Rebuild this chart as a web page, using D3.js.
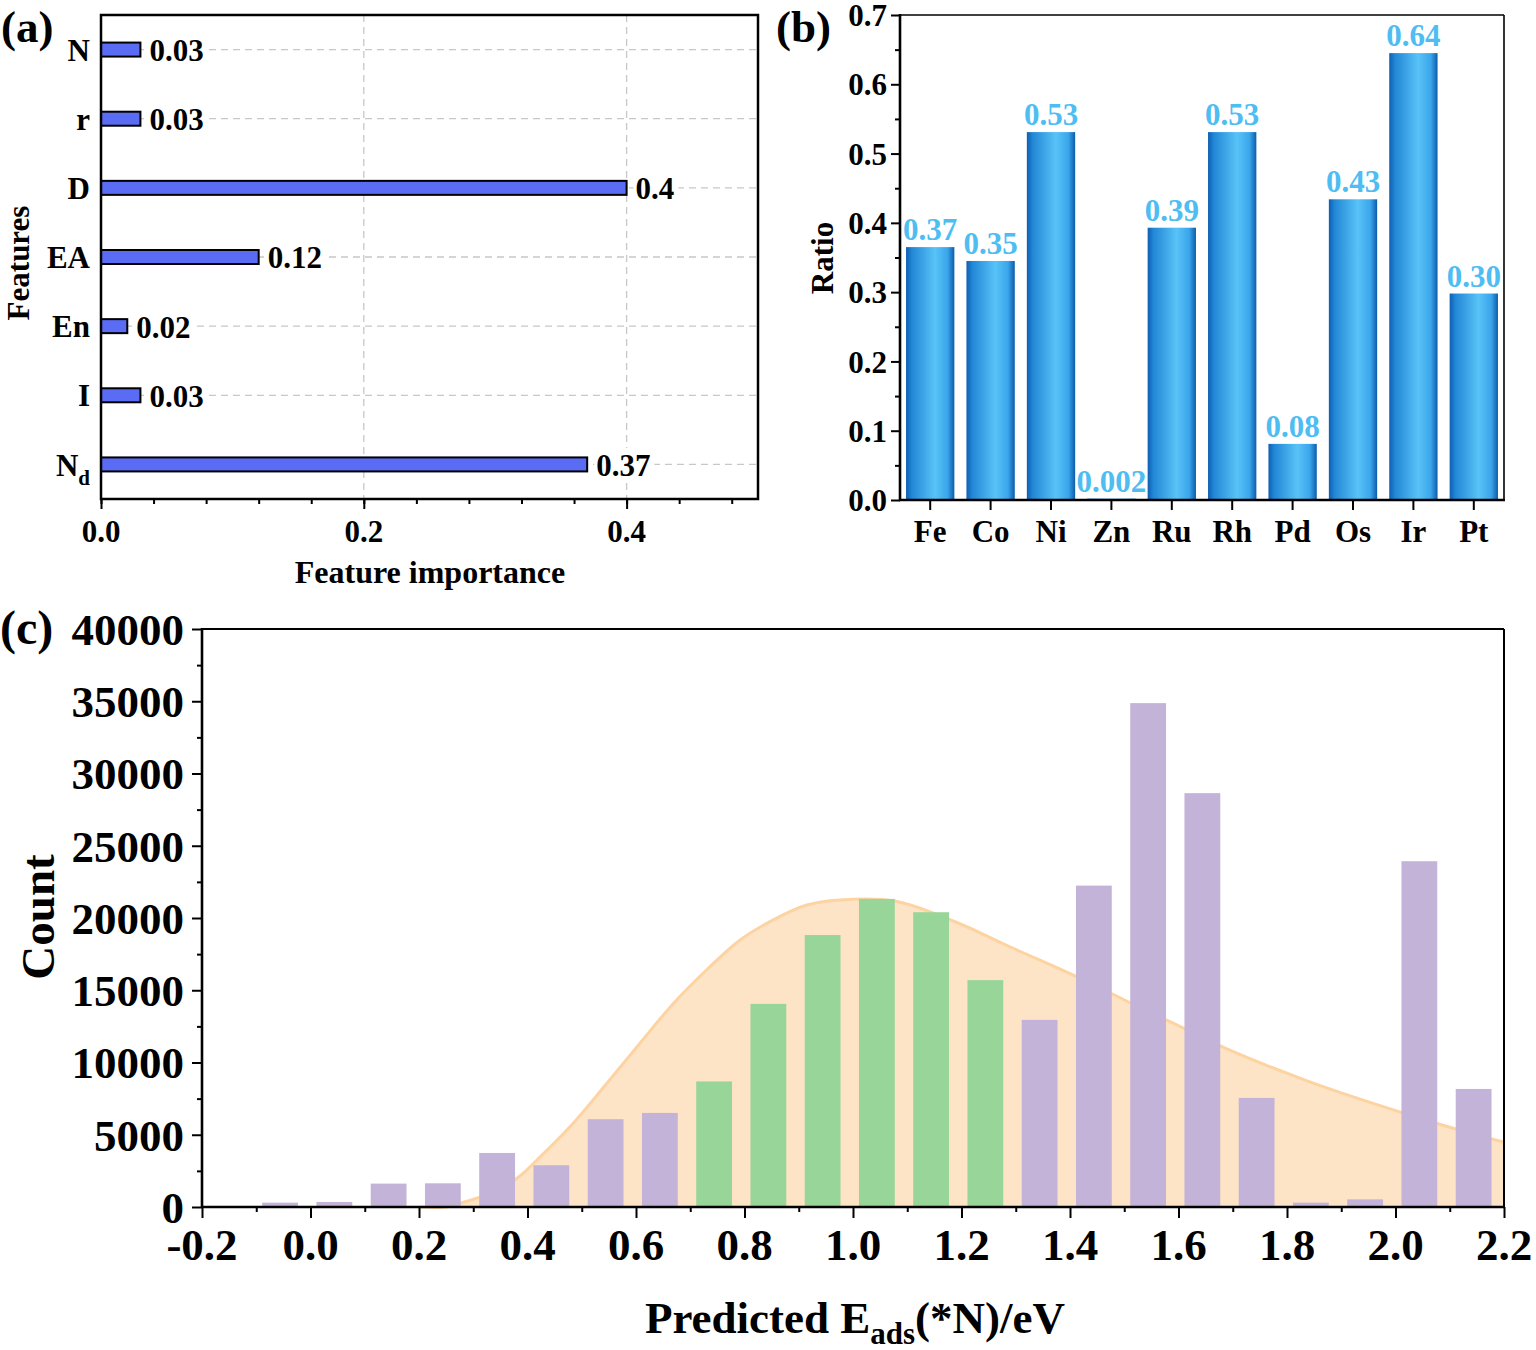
<!DOCTYPE html>
<html><head><meta charset="utf-8">
<script src="https://cdn.jsdelivr.net/npm/d3@7"></script>
<style>
body{margin:0;background:#fff}
text{font-family:"Liberation Serif","Times New Roman",serif;font-weight:bold;fill:#000}
</style>
</head><body>
<svg id="c" width="1536" height="1350"></svg>
<script>
// ---------- DATA ----------
// Panel (a)
const features = ["N","r","D","EA","En","I","Nd"];
const importance = [0.03,0.03,0.4,0.12,0.02,0.03,0.37];
const importanceLabels = ["0.03","0.03","0.4","0.12","0.02","0.03","0.37"];
const xTicksA = [0.0,0.2,0.4];

// Panel (b)
const metals = ["Fe","Co","Ni","Zn","Ru","Rh","Pd","Os","Ir","Pt"];
const ratios = [0.365,0.345,0.531,0.002,0.393,0.531,0.081,0.434,0.645,0.298];
const ratioLabels = ["0.37","0.35","0.53","0.002","0.39","0.53","0.08","0.43","0.64","0.30"];
const yTicksB = [0.0,0.1,0.2,0.3,0.4,0.5,0.6,0.7];

// Panel (c)
const binCenters = [-0.056,0.044,0.144,0.244,0.344,0.444,0.544,0.644,0.744,0.844,0.944,1.044,1.144,1.244,1.344,1.444,1.544,1.644,1.744,1.844,1.944,2.044,2.144];
const binCounts  = [300,350,1620,1640,3740,2890,6075,6510,8690,14060,18820,21320,20400,15700,12950,22240,34870,28640,7550,300,530,23930,8170];
const binGroups  = ["out","out","out","out","out","out","out","out","in","in","in","in","in","in","out","out","out","out","out","out","out","out","out"];
const curveX = [0.2,0.25,0.276,0.33,0.38,0.423,0.484,0.546,0.607,0.669,0.730,0.792,0.853,0.915,0.976,1.077,1.188,1.289,1.418,1.52,1.594,1.686,1.842,2.027,2.119,2.2];
const curveY = [0,0,256,950,1970,3460,5780,8550,11320,14090,16400,18480,19870,20900,21250,21180,19740,18010,15840,13970,12650,11000,8660,6350,5310,4480];
const xTicksC = [-0.2,0.0,0.2,0.4,0.6,0.8,1.0,1.2,1.4,1.6,1.8,2.0,2.2];
const yTicksC = [0,5000,10000,15000,20000,25000,30000,35000,40000];

// ---------- DRAW ----------
const svg = d3.select("#c");
svg.append("rect").attr("width",1536).attr("height",1350).attr("fill","#fff");
const defs = svg.append("defs");
const grad = defs.append("linearGradient").attr("id","gradB").attr("x1","0").attr("x2","1").attr("y1","0").attr("y2","0");
[[0,"#0e5fb2"],[0.12,"#2287d6"],[0.6,"#58c3f7"],[0.86,"#3aa5ea"],[1,"#0c5cab"]].forEach(s=>{
  grad.append("stop").attr("offset",s[0]).attr("stop-color",s[1]);
});

function stripDomain(g){ g.select(".domain").remove(); g.selectAll(".tick line").attr("stroke","#000").attr("stroke-width",2); }

// ===== Panel (a) =====
const gA = svg.append("g");
const xA = d3.scaleLinear().domain([0,0.5]).range([101,758]);
const yA = d3.scaleBand().domain(features).range([15,499]);
const cy = d => yA(d) + yA.bandwidth()/2;

gA.selectAll("line.vg").data([0.2,0.4]).join("line").attr("class","vg")
  .attr("x1",d=>xA(d)).attr("x2",d=>xA(d)).attr("y1",15).attr("y2",499)
  .attr("stroke","#c8c8c8").attr("stroke-width",1.3).attr("stroke-dasharray","7,5");
gA.selectAll("line.hg").data(features).join("line").attr("class","hg")
  .attr("x1",xA(0)).attr("x2",xA(0.5)).attr("y1",d=>cy(d)).attr("y2",d=>cy(d))
  .attr("stroke","#c8c8c8").attr("stroke-width",1.3).attr("stroke-dasharray","7,5");

gA.selectAll("rect.bar").data(features).join("rect").attr("class","bar")
  .attr("x",xA(0)).attr("y",d=>cy(d)-7).attr("height",14)
  .attr("width",(d,i)=>xA(importance[i])-xA(0))
  .attr("fill","#5b6cf4").attr("stroke","#000").attr("stroke-width",2);

features.forEach((f,i)=>{
  const g = gA.append("g");
  const r = g.append("rect").attr("fill","#fff");
  const t = g.append("text").attr("x",xA(importance[i])+9).attr("y",cy(f)).attr("dy","0.37em")
    .attr("font-size",31).text(importanceLabels[i]);
  const b = t.node().getBBox();
  r.attr("x",b.x-2).attr("y",b.y).attr("width",b.width+6).attr("height",b.height);
});

features.forEach(f=>{
  const t = gA.append("text").attr("x",90).attr("y",cy(f)).attr("dy","0.36em")
    .attr("text-anchor","end").attr("font-size",31);
  if(f==="Nd"){
    t.append("tspan").text("N");
    t.append("tspan").attr("font-size",21).attr("dy",9).text("d");
  } else t.text(f);
});

gA.append("g").attr("transform","translate(0,499)")
  .call(d3.axisBottom(xA).tickValues(d3.range(0,0.49,0.04)).tickSize(5).tickFormat(""))
  .call(stripDomain);
gA.append("g").attr("transform","translate(0,499)")
  .call(d3.axisBottom(xA).tickValues(xTicksA).tickSize(10).tickFormat(""))
  .call(stripDomain);
gA.selectAll("text.xt").data(xTicksA).join("text").attr("class","xt")
  .attr("x",d=>xA(d)).attr("y",542).attr("text-anchor","middle").attr("font-size",31)
  .text(d=>d.toFixed(1));
gA.append("rect").attr("x",xA(0)).attr("y",15).attr("width",xA(0.5)-xA(0)).attr("height",484)
  .attr("fill","none").attr("stroke","#000").attr("stroke-width",2.5);
gA.append("text").attr("x",430).attr("y",583).attr("text-anchor","middle").attr("font-size",32).text("Feature importance");
gA.append("text").attr("transform","translate(29,263) rotate(-90)").attr("text-anchor","middle").attr("font-size",31).text("Features");
svg.append("text").attr("x",1).attr("y",42).attr("font-size",45).text("(a)");

// ===== Panel (b) =====
const gB = svg.append("g");
const xB = d3.scaleBand().domain(metals).range([900,1504]).paddingInner(0.2).paddingOuter(0.1);
const yB = d3.scaleLinear().domain([0,0.7]).range([500,15]);

gB.selectAll("rect.bar").data(metals).join("rect").attr("class","bar")
  .attr("x",d=>xB(d)).attr("width",xB.bandwidth())
  .attr("y",(d,i)=>yB(ratios[i])).attr("height",(d,i)=>yB(0)-yB(ratios[i]))
  .attr("fill","url(#gradB)");
gB.selectAll("text.vl").data(metals).join("text").attr("class","vl")
  .attr("x",d=>xB(d)+xB.bandwidth()/2).attr("y",(d,i)=>yB(ratios[i])-7)
  .attr("text-anchor","middle").attr("font-size",31).style("fill","#4dbdf2")
  .text((d,i)=>ratioLabels[i]);

gB.append("g").attr("transform","translate(900,0)")
  .call(d3.axisLeft(yB).tickValues(d3.range(0.05,0.7,0.1)).tickSize(5).tickFormat(""))
  .call(stripDomain);
gB.append("g").attr("transform","translate(900,0)")
  .call(d3.axisLeft(yB).tickValues(yTicksB).tickSize(9).tickFormat(""))
  .call(stripDomain);
gB.append("g").attr("transform","translate(0,500)")
  .call(d3.axisBottom(xB).tickSize(10).tickFormat(""))
  .call(stripDomain);
gB.selectAll("text.yt").data(yTicksB).join("text").attr("class","yt")
  .attr("x",887).attr("y",d=>yB(d)).attr("dy","0.36em").attr("text-anchor","end").attr("font-size",31)
  .text(d=>d.toFixed(1));
gB.selectAll("text.xt").data(metals).join("text").attr("class","xt")
  .attr("x",d=>xB(d)+xB.bandwidth()/2).attr("y",542).attr("text-anchor","middle").attr("font-size",31)
  .text(d=>d);
gB.append("line").attr("x1",900).attr("x2",1504).attr("y1",15).attr("y2",15).attr("stroke","#000").attr("stroke-width",1.6);
gB.append("line").attr("x1",1504).attr("x2",1504).attr("y1",15).attr("y2",500).attr("stroke","#000").attr("stroke-width",1.6);
gB.append("line").attr("x1",900).attr("x2",900).attr("y1",14).attr("y2",501).attr("stroke","#000").attr("stroke-width",2.6);
gB.append("line").attr("x1",899).attr("x2",1505).attr("y1",500).attr("y2",500).attr("stroke","#000").attr("stroke-width",2.6);
gB.append("text").attr("transform","translate(833,258) rotate(-90)").attr("text-anchor","middle").attr("font-size",31).text("Ratio");
svg.append("text").attr("x",776).attr("y",42).attr("font-size",45).text("(b)");

// ===== Panel (c) =====
const gC = svg.append("g");
const xC = d3.scaleLinear().domain([-0.2,2.2]).range([202,1504]);
const yC = d3.scaleLinear().domain([0,40000]).range([1207,629]);
const curvePts = curveX.map((x,i)=>[x,curveY[i]]);
const smooth = d3.curveCatmullRom.alpha(0.5);
gC.append("path").datum(curvePts)
  .attr("d",d3.area().x(d=>xC(d[0])).y0(yC(0)).y1(d=>Math.min(yC(0),yC(d[1]))).curve(smooth))
  .attr("fill","#fee4c6");
gC.append("path").datum(curvePts)
  .attr("d",d3.line().x(d=>xC(d[0])).y(d=>yC(d[1])).curve(smooth))
  .attr("fill","none").attr("stroke","#fdd3a2").attr("stroke-width",3);

const bw = 0.066;
gC.selectAll("rect.bar").data(binCenters).join("rect").attr("class","bar")
  .attr("x",d=>xC(d-bw/2)).attr("width",xC(bw)-xC(0))
  .attr("y",(d,i)=>yC(binCounts[i])).attr("height",(d,i)=>yC(0)-yC(binCounts[i]))
  .attr("fill",(d,i)=>binGroups[i]==="in"?"#98d598":"#c4b3d9");

gC.append("g").attr("transform","translate(202,0)")
  .call(d3.axisLeft(yC).tickValues(d3.range(2500,40000,5000)).tickSize(5).tickFormat(""))
  .call(stripDomain);
gC.append("g").attr("transform","translate(202,0)")
  .call(d3.axisLeft(yC).tickValues(yTicksC).tickSize(10).tickFormat(""))
  .call(stripDomain);
gC.append("g").attr("transform","translate(0,1207)")
  .call(d3.axisBottom(xC).tickValues(d3.range(-0.1,2.2,0.2)).tickSize(5).tickFormat(""))
  .call(stripDomain);
gC.append("g").attr("transform","translate(0,1207)")
  .call(d3.axisBottom(xC).tickValues(xTicksC).tickSize(11).tickFormat(""))
  .call(stripDomain);
gC.selectAll("text.yt").data(yTicksC).join("text").attr("class","yt")
  .attr("x",184).attr("y",d=>yC(d)).attr("dy","0.35em").attr("text-anchor","end").attr("font-size",45)
  .text(d=>String(d));
gC.selectAll("text.xt").data(xTicksC).join("text").attr("class","xt")
  .attr("x",d=>xC(d)).attr("y",1260).attr("text-anchor","middle").attr("font-size",45)
  .text(d=>d.toFixed(1));
gC.append("line").attr("x1",202).attr("x2",1504).attr("y1",629).attr("y2",629).attr("stroke","#000").attr("stroke-width",2);
gC.append("line").attr("x1",1504).attr("x2",1504).attr("y1",629).attr("y2",1207).attr("stroke","#000").attr("stroke-width",2);
gC.append("line").attr("x1",202).attr("x2",202).attr("y1",628).attr("y2",1208).attr("stroke","#000").attr("stroke-width",2.6);
gC.append("line").attr("x1",201).attr("x2",1505).attr("y1",1207).attr("y2",1207).attr("stroke","#000").attr("stroke-width",2.6);

const xt = gC.append("text").attr("x",855).attr("y",1333).attr("text-anchor","middle").attr("font-size",45);
xt.append("tspan").text("Predicted E");
xt.append("tspan").attr("font-size",31).attr("dy",11).text("ads");
xt.append("tspan").attr("dy",-11).text("(*N)/eV");
gC.append("text").attr("transform","translate(54,917) rotate(-90)").attr("text-anchor","middle").attr("font-size",47).text("Count");
svg.append("text").attr("x",0).attr("y",644).attr("font-size",48).text("(c)");
</script>
</body></html>
